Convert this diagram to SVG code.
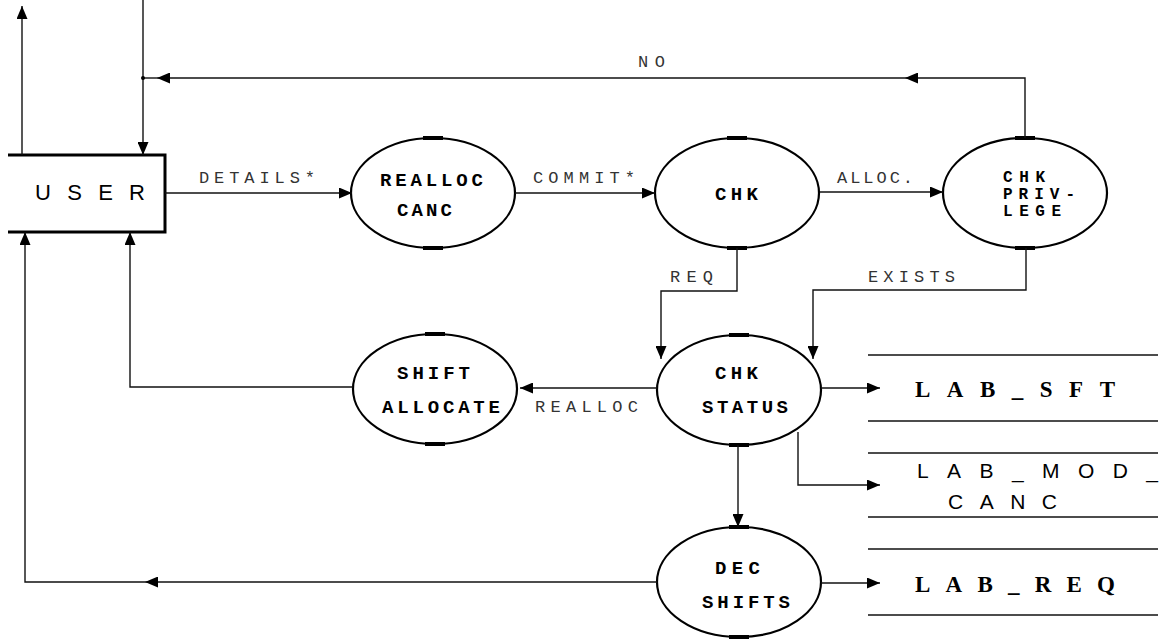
<svg xmlns="http://www.w3.org/2000/svg" width="1166" height="642" viewBox="0 0 1166 642">
<style>
.bg{fill:#fff}
.proc{fill:none;stroke:#000;stroke-width:2.2}
.tick{stroke:#000;stroke-width:4}
.box{fill:none;stroke:#000;stroke-width:3}
.con{fill:none;stroke:#111;stroke-width:1.4}
.store{stroke:#111;stroke-width:1.6}
.nt{font-family:"Liberation Mono",monospace;font-weight:bold;font-size:19px;fill:#000}
.pt{font-family:"Liberation Mono",monospace;font-weight:bold;font-size:16px;fill:#000}
.lt{font-family:"Liberation Mono",monospace;font-size:17px;fill:#333}
.ut{font-family:"Liberation Sans",sans-serif;font-size:22px;fill:#000}
.sb{font-family:"Liberation Serif",serif;font-weight:bold;font-size:23px;fill:#000}
.sn{font-family:"Liberation Sans",sans-serif;font-size:21px;fill:#000}
</style>
<defs>
<marker id="ah" markerUnits="userSpaceOnUse" markerWidth="13" markerHeight="11" refX="13" refY="5.5" orient="auto">
<path d="M0,0 L13,5.5 L0,11 z" fill="#000"/>
</marker>
</defs>
<rect class="bg" x="0" y="0" width="1166" height="642"/>

<g id="user">
<path class="box" d="M8,155 H165 V232 H8"/>
<text class="ut" x="35" y="200" textLength="110" lengthAdjust="spacing">USER</text>
</g>

<g id="realloc-canc">
<ellipse class="proc" cx="433" cy="193" rx="82" ry="55"/>
<line class="tick" x1="423" y1="138" x2="443" y2="138"/><line class="tick" x1="423" y1="248" x2="443" y2="248"/>
<text class="nt" x="380" y="186" textLength="103" lengthAdjust="spacing">REALLOC</text>
<text class="nt" x="397" y="216" textLength="55" lengthAdjust="spacing">CANC</text>
</g>

<g id="chk">
<ellipse class="proc" cx="737" cy="193" rx="82" ry="55"/>
<line class="tick" x1="727" y1="138" x2="747" y2="138"/><line class="tick" x1="727" y1="248" x2="747" y2="248"/>
<text class="nt" x="715" y="200" textLength="43" lengthAdjust="spacing">CHK</text>
</g>

<g id="chk-privilege">
<ellipse class="proc" cx="1025" cy="193" rx="82" ry="55"/>
<line class="tick" x1="1015" y1="138" x2="1035" y2="138"/><line class="tick" x1="1015" y1="248" x2="1035" y2="248"/>
<text class="pt" x="1003" y="182" textLength="42" lengthAdjust="spacing">CHK</text>
<text class="pt" x="1003" y="199" textLength="72" lengthAdjust="spacing">PRIV-</text>
<text class="pt" x="1003" y="216" textLength="58" lengthAdjust="spacing">LEGE</text>
</g>

<g id="shift-allocate">
<ellipse class="proc" cx="435" cy="389" rx="82" ry="55"/>
<line class="tick" x1="425" y1="334" x2="445" y2="334"/><line class="tick" x1="425" y1="444" x2="445" y2="444"/>
<text class="nt" x="397" y="379" textLength="73" lengthAdjust="spacing">SHIFT</text>
<text class="nt" x="382" y="413" textLength="118" lengthAdjust="spacing">ALLOCATE</text>
</g>

<g id="chk-status">
<ellipse class="proc" cx="739" cy="390" rx="82" ry="55"/>
<line class="tick" x1="729" y1="335" x2="749" y2="335"/><line class="tick" x1="729" y1="445" x2="749" y2="445"/>
<text class="nt" x="715" y="379" textLength="43" lengthAdjust="spacing">CHK</text>
<text class="nt" x="702" y="413" textLength="86" lengthAdjust="spacing">STATUS</text>
</g>

<g id="dec-shifts">
<ellipse class="proc" cx="739" cy="582" rx="82" ry="55"/>
<line class="tick" x1="729" y1="527" x2="749" y2="527"/><line class="tick" x1="729" y1="637" x2="749" y2="637"/>
<text class="nt" x="715" y="574" textLength="45" lengthAdjust="spacing">DEC</text>
<text class="nt" x="702" y="608" textLength="88" lengthAdjust="spacing">SHIFTS</text>
</g>

<g id="lab-sft">
<line class="store" x1="868" y1="355" x2="1158" y2="355"/>
<line class="store" x1="868" y1="421" x2="1158" y2="421"/>
<text class="sb" x="915" y="397" textLength="200" lengthAdjust="spacing">LAB_SFT</text>
</g>

<g id="lab-mod-canc">
<line class="store" x1="868" y1="453" x2="1158" y2="453"/>
<line class="store" x1="868" y1="517" x2="1158" y2="517"/>
<text class="sn" x="917" y="478" textLength="241" lengthAdjust="spacing">LAB_MOD_</text>
<text class="sn" x="948" y="509" textLength="109" lengthAdjust="spacing">CANC</text>
</g>

<g id="lab-req">
<line class="store" x1="868" y1="549" x2="1158" y2="549"/>
<line class="store" x1="868" y1="615" x2="1158" y2="615"/>
<text class="sb" x="915" y="592" textLength="200" lengthAdjust="spacing">LAB_REQ</text>
</g>

<g id="connectors">
<path class="con" d="M22,155 V6" marker-end="url(#ah)"/>
<path class="con" d="M143,0 V155" marker-end="url(#ah)"/>
<path class="con" d="M1025,138 V78 H905" marker-end="url(#ah)"/>
<path class="con" d="M905,78 H157" marker-end="url(#ah)"/>
<path class="con" d="M157,78 H143"/>
<circle cx="143" cy="78" r="2" fill="#000"/>
<path class="con" d="M165,193 H352" marker-end="url(#ah)"/>
<path class="con" d="M515,193 H655" marker-end="url(#ah)"/>
<path class="con" d="M820,192 H943" marker-end="url(#ah)"/>
<path class="con" d="M737,248 V291 H661 V359" marker-end="url(#ah)"/>
<path class="con" d="M1026,248 V290 H813 V359" marker-end="url(#ah)"/>
<path class="con" d="M657,388 H520" marker-end="url(#ah)"/>
<path class="con" d="M353,387 H130 V232" marker-end="url(#ah)"/>
<path class="con" d="M657,582 H145" marker-end="url(#ah)"/>
<path class="con" d="M145,582 H25 V232" marker-end="url(#ah)"/>
<path class="con" d="M738,445 V527" marker-end="url(#ah)"/>
<path class="con" d="M821,388 H880" marker-end="url(#ah)"/>
<path class="con" d="M798,432 V485 H880" marker-end="url(#ah)"/>
<path class="con" d="M821,583 H880" marker-end="url(#ah)"/>
<text class="lt" x="638" y="67" textLength="27" lengthAdjust="spacing">NO</text>
<text class="lt" x="199" y="183" textLength="116" lengthAdjust="spacing">DETAILS*</text>
<text class="lt" x="533" y="183" textLength="102" lengthAdjust="spacing">COMMIT*</text>
<text class="lt" x="837" y="183" textLength="76" lengthAdjust="spacing">ALLOC.</text>
<text class="lt" x="670" y="282" textLength="43" lengthAdjust="spacing">REQ</text>
<text class="lt" x="868" y="282" textLength="87" lengthAdjust="spacing">EXISTS</text>
<text class="lt" x="535" y="412" textLength="103" lengthAdjust="spacing">REALLOC</text>
</g>
</svg>
